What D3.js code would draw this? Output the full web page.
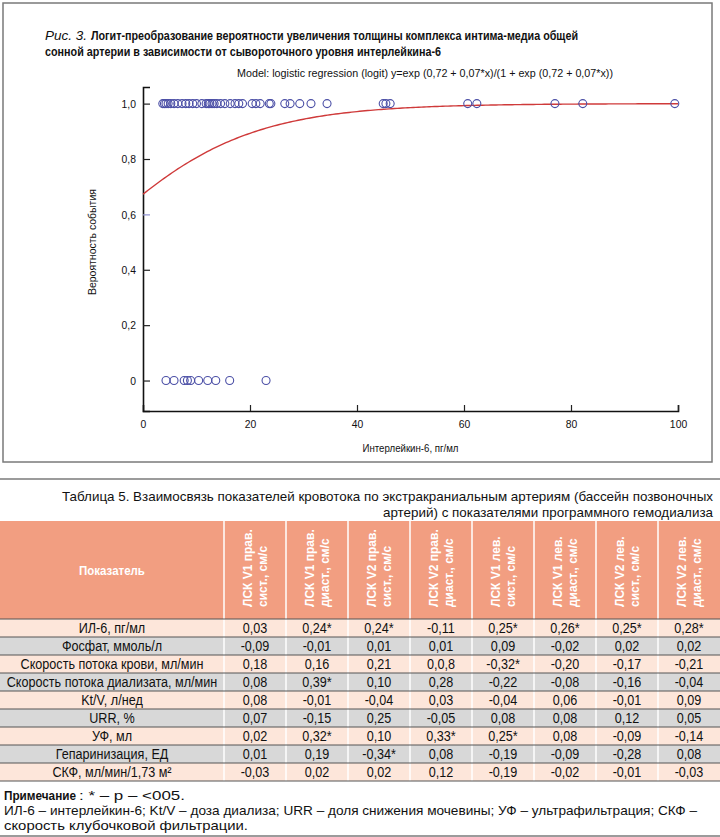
<!DOCTYPE html>
<html>
<head>
<meta charset="utf-8">
<script src="https://cdn.jsdelivr.net/npm/d3@7"></script>
<style>
  body { margin: 0; background: #fff; }
  svg { display: block; font-family: "Liberation Sans", Arial, sans-serif; }
</style>
</head>
<body>
<svg id="chart" width="720" height="837"></svg>
<script>
// scatter: IL-6 values with event (y = 1) and without (y = 0)
const ilEvent = [3.7, 4.0, 4.3, 4.7, 5.2, 5.8, 6.5, 7.3, 8.0, 8.6, 9.3, 10.0, 11.0, 11.8, 12.2, 12.5,
  12.9, 13.3, 13.8, 14.5, 15.3, 16.3, 17.2, 17.9, 18.6, 20.4, 21.1, 21.9, 23.6, 23.9, 26.5, 27.5,
  29.3, 31.4, 34.4, 44.9, 45.4, 46.2, 60.7, 62.4, 77.0, 82.2, 99.4];
const ilNoEvent = [4.3, 5.8, 7.7, 8.3, 8.9, 10.4, 12.1, 13.6, 16.2, 23.0];
// logit model coefficients from the figure
const b0 = 0.72, b1 = 0.07;
const xTicks = [0, 20, 40, 60, 80, 100];
const yTicks = [0, 0.2, 0.4, 0.6, 0.8, 1.0];

// table
const rowLabels = ["ИЛ-6, пг/мл", "Фосфат, ммоль/л", "Скорость потока крови, мл/мин",
  "Скорость потока диализата, мл/мин", "Kt/V, л/нед", "URR, %", "УФ, мл",
  "Гепаринизация, ЕД", "СКФ, мл/мин/1,73 м²"];
const colHeaders = [
  ["ЛСК V1 прав.", "сист., см/с"], ["ЛСК V1 прав.", "диаст., см/с"],
  ["ЛСК V2 прав.", "сист., см/с"], ["ЛСК V2 прав.", "диаст., см/с"],
  ["ЛСК V1 лев.", "сист., см/с"], ["ЛСК V1 лев.", "диаст., см/с"],
  ["ЛСК V2 лев.", "сист., см/с"], ["ЛСК V2 лев.", "диаст., см/с"]];
const tableValues = [
  ["0,03", "0,24*", "0,24*", "-0,11", "0,25*", "0,26*", "0,25*", "0,28*"],
  ["-0,09", "-0,01", "0,01", "0,01", "0,09", "-0,02", "0,02", "0,02"],
  ["0,18", "0,16", "0,21", "0,0,8", "-0,32*", "-0,20", "-0,17", "-0,21"],
  ["0,08", "0,39*", "0,10", "0,28", "-0,22", "-0,08", "-0,16", "-0,04"],
  ["0,08", "-0,01", "-0,04", "0,03", "-0,04", "0,06", "-0,01", "0,09"],
  ["0,07", "-0,15", "0,25", "-0,05", "0,08", "0,08", "0,12", "0,05"],
  ["0,02", "0,32*", "0,10", "0,33*", "0,25*", "0,08", "-0,09", "-0,14"],
  ["0,01", "0,19", "-0,34*", "0,08", "-0,19", "-0,09", "-0,28", "0,08"],
  ["-0,03", "0,02", "0,02", "0,12", "-0,19", "-0,02", "-0,01", "-0,03"]];

const svg = d3.select("#chart");
const fmt = d => d3.format(".1f")(d).replace(".", ",");

// squeeze text to a given width (the source uses a condensed face)
const fit = (sel, w) => sel.attr("textLength", w).attr("lengthAdjust", "spacingAndGlyphs");
const condense = (sel, k) => sel.each(function () {
  const len = this.getComputedTextLength();
  d3.select(this).attr("textLength", len * k).attr("lengthAdjust", "spacingAndGlyphs");
});

// ---------- figure ----------
svg.append("rect")
  .attr("x", 3).attr("y", 3).attr("width", 709).attr("height", 459)
  .attr("fill", "none").attr("stroke", "#7a7a7a").attr("stroke-width", 1.5);

svg.append("text").attr("x", 45).attr("y", 40).attr("font-size", 13).attr("font-style", "italic")
  .attr("fill", "#111").text("Рис. 3.").call(fit, 42);
svg.append("text").attr("x", 91).attr("y", 40).attr("font-size", 13).attr("font-weight", "bold")
  .attr("fill", "#111").text("Логит-преобразование вероятности увеличения толщины комплекса интима-медиа общей")
  .call(fit, 487);
svg.append("text").attr("x", 45).attr("y", 56).attr("font-size", 13).attr("font-weight", "bold")
  .attr("fill", "#111").text("сонной артерии в зависимости от сывороточного уровня интерлейкина-6")
  .call(fit, 396);

svg.append("text")
  .attr("x", 237).attr("y", 77).attr("font-size", 11.5).attr("fill", "#111")
  .text("Model: logistic regression (logit) y=exp (0,72 + 0,07*x)/(1 + exp (0,72 + 0,07*x))")
  .call(fit, 376);

const x = d3.scaleLinear().domain([0, 100]).range([143, 678]);
const y = d3.scaleLinear().domain([-0.11, 1.06]).range([411, 87]);

const xAxis = svg.append("g")
  .attr("transform", `translate(0,${y(-0.11)})`)
  .call(d3.axisBottom(x).tickValues(xTicks).tickSize(-6).tickPadding(9).tickFormat(d3.format("d")));
const yAxis = svg.append("g")
  .attr("transform", `translate(${x(0)},0)`)
  .call(d3.axisLeft(y).tickValues(yTicks).tickSize(-7).tickPadding(7)
    .tickFormat(d => d === 0 ? "0" : fmt(d)));

[xAxis, yAxis].forEach(g => {
  g.selectAll("path.domain").attr("stroke", "#111").attr("stroke-width", 1.6);
  g.selectAll(".tick line").attr("stroke", "#222").attr("stroke-width", 1.2);
  g.selectAll(".tick text").attr("font-size", 11.5).attr("fill", "#111")
    .attr("font-family", "\"Liberation Sans\", Arial, sans-serif").call(condense, 0.9);
});
xAxis.selectAll(".tick").filter(d => d === 0).select("line").remove();
yAxis.selectAll(".tick").filter(d => d === 0.6).select("line").attr("stroke", "#8c8fd0");

svg.append("text")
  .attr("transform", `translate(96,${(y(0) + y(1)) / 2}) rotate(-90)`)
  .attr("text-anchor", "middle").attr("font-size", 11.5).attr("fill", "#111")
  .text("Вероятность события").call(fit, 106);
svg.append("text")
  .attr("x", (x(0) + x(100)) / 2).attr("y", 452).attr("text-anchor", "middle")
  .attr("font-size", 11.5).attr("fill", "#111").text("Интерлейкин-6, пг/мл").call(fit, 96);

// fitted logistic curve
const logit = v => Math.exp(b0 + b1 * v) / (1 + Math.exp(b0 + b1 * v));
svg.append("path")
  .datum(d3.range(0, 100.5, 0.5))
  .attr("fill", "none").attr("stroke", "#cf3a3a").attr("stroke-width", 1.4)
  .attr("d", d3.line().x(d => x(d)).y(d => y(logit(d))));

const pts = ilEvent.map(v => ({ v, e: 1 })).concat(ilNoEvent.map(v => ({ v, e: 0 })));
svg.append("g").selectAll("circle")
  .data(pts).join("circle")
  .attr("cx", d => x(d.v)).attr("cy", d => y(d.e)).attr("r", 4)
  .attr("fill", "none").attr("stroke", "#4b4fa6").attr("stroke-width", 1.1);

// ---------- table ----------
svg.append("line").attr("x1", 0).attr("x2", 720).attr("y1", 479).attr("y2", 479)
  .attr("stroke", "#7a7a7a").attr("stroke-width", 1.5);

const tTitle = [
  { t: "Таблица 5. Взаимосвязь показателей кровотока по экстракраниальным артериям (бассейн позвоночных", w: 651 },
  { t: "артерий) с показателями программного гемодиализа", w: 330 }];
svg.append("g").selectAll("text").data(tTitle).join("text")
  .attr("x", d => 713 - d.w).attr("y", (d, i) => 501 + i * 16)
  .attr("font-size", 13).attr("fill", "#111").text(d => d.t)
  .each(function (d) { d3.select(this).call(fit, d.w); });

const headTop = 521, headBottom = 619, labelW = 224;
const col = d3.scaleBand().domain(d3.range(colHeaders.length)).range([labelW, 720]);
const row = d3.scaleBand().domain(d3.range(rowLabels.length)).range([headBottom, headBottom + 18 * rowLabels.length]);

svg.append("rect").attr("x", 0).attr("y", headTop).attr("width", 720).attr("height", headBottom - headTop)
  .attr("fill", "#f29e81");
svg.append("text")
  .attr("x", labelW / 2).attr("y", (headTop + headBottom) / 2 + 5).attr("text-anchor", "middle")
  .attr("font-size", 13.5).attr("font-weight", "bold").attr("fill", "#fff").text("Показатель").call(condense, 0.85);

const heads = svg.append("g").selectAll("g").data(colHeaders).join("g")
  .attr("transform", (d, i) => `translate(${col(i) + col.bandwidth() / 2},${headBottom - 12}) rotate(-90)`);
heads.selectAll("text").data(d => d).join("text")
  .attr("x", 0).attr("y", (d, i) => i === 0 ? -3 : 12)
  .attr("font-size", 12).attr("font-weight", "bold").attr("fill", "#fff").text(d => d);

// rows
const rows = svg.append("g").selectAll("g").data(rowLabels).join("g")
  .attr("transform", (d, i) => `translate(0,${row(i)})`);
rows.append("rect").attr("width", 720).attr("height", row.bandwidth())
  .attr("fill", (d, i) => i % 2 ? "#d8d8d8" : "#fde6da");
rows.append("text")
  .attr("x", labelW / 2).attr("y", row.bandwidth() / 2 + 5).attr("text-anchor", "middle")
  .attr("font-size", 14).attr("fill", "#111").text(d => d).call(condense, 0.9);
rows.each(function (d, i) {
  d3.select(this).selectAll("text.val").data(tableValues[i]).join("text")
    .attr("class", "val")
    .attr("x", (v, j) => col(j) + col.bandwidth() / 2).attr("y", row.bandwidth() / 2 + 5)
    .attr("text-anchor", "middle").attr("font-size", 14).attr("fill", "#111").text(v => v)
    .call(condense, 0.9);
});

// column separators and row rules
svg.append("g").selectAll("line").data(d3.range(colHeaders.length)).join("line")
  .attr("x1", i => col(i)).attr("x2", i => col(i))
  .attr("y1", headTop).attr("y2", row(rowLabels.length - 1) + row.bandwidth())
  .attr("stroke", "#fff").attr("stroke-width", 1.5);
svg.append("g").selectAll("line").data(d3.range(rowLabels.length + 1)).join("line")
  .attr("x1", 0).attr("x2", 720)
  .attr("y1", i => headBottom + i * row.bandwidth()).attr("y2", i => headBottom + i * row.bandwidth())
  .attr("stroke", "#555").attr("stroke-width", 1);

// note
const note = svg.append("g").attr("font-size", 13.5).attr("fill", "#111");
note.append("text").attr("x", 4).attr("y", 800).attr("font-size", 12.5).attr("font-weight", "bold")
  .text("Примечание").call(fit, 72);
note.append("text").attr("x", 79).attr("y", 800).text(": * – p – <005.").call(fit, 106);
note.append("text").attr("x", 4).attr("y", 815)
  .text("ИЛ-6 – интерлейкин-6; Kt/V – доза диализа; URR – доля снижения мочевины; УФ – ультрафильтрация; СКФ –")
  .call(fit, 693);
note.append("text").attr("x", 4).attr("y", 830).text("скорость клубочковой фильтрации.").call(fit, 244);
svg.append("line").attr("x1", 0).attr("x2", 720).attr("y1", 836).attr("y2", 836)
  .attr("stroke", "#7a7a7a").attr("stroke-width", 1.5);
</script>
</body>
</html>
